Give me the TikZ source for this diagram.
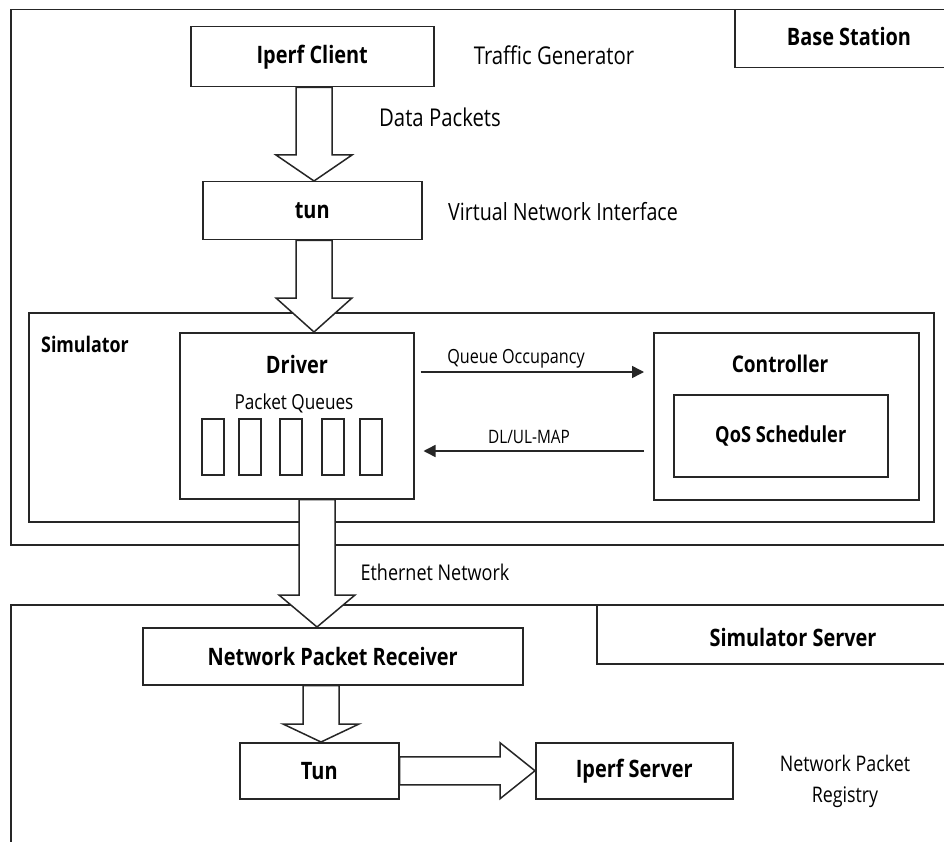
\documentclass[tikz,border=0pt]{standalone}
\usepackage{fontspec}
\setmainfont{Open Sans}[FakeStretch=0.83]
\usetikzlibrary{arrows.meta,calc}
\newcommand\lblfont{\fontsize{24.5}{30}\selectfont}
\newcommand\boldfont{\fontsize{24}{28}\selectfont\bfseries}
\newcommand\smallfont{\fontsize{19.5}{22}\selectfont}
\newcommand\blkdown[4]{% x, from, to, head length
  \draw[blockarrow] let \p1=(#2), \p2=(#3) in
    ({(#1-18)*1pt},\y1) -- ({(#1-18)*1pt},{\y2+#4pt}) -- ({(#1-38)*1pt},{\y2+#4pt})
    -- ({#1*1pt},\y2) -- ({(#1+38)*1pt},{\y2+#4pt}) -- ({(#1+18)*1pt},{\y2+#4pt})
    -- ({(#1+18)*1pt},\y1) -- cycle;}
\tikzset{
  line/.style={draw=black!85, line width=1.5pt},
  frame/.style={line, rectangle, inner sep=0pt, anchor=north west, fill=white},
  blockarrow/.style={line, fill=white, line join=miter},
  thinarrow/.style={line, -{Triangle[length=12pt,width=12pt]}},
  lbl/.style={font=\lblfont, inner sep=0pt, text=black},
  bold/.style={font=\boldfont, inner sep=0pt, text=black},
  small/.style={font=\smallfont, inner sep=0pt, text=black},
}
\begin{document}
\begin{tikzpicture}[x=1pt,y=-1pt]
\useasboundingbox (0,0) rectangle (944,842);
\fill[white] (0,0) rectangle (944,842);
\clip (0,0) rectangle (944,842);
% outer containers
\node[frame, minimum width=960, minimum height=535] (bs) at (10,9) {};
\node[frame, minimum width=240, minimum height=58] (bslbl) at (734,9) {};
\node[bold] (bstext) at (849,37) {Base Station};
\node[frame, minimum width=960, minimum height=300] (ss) at (10,604) {};
\node[frame, minimum width=380, minimum height=59] (sslbl) at (596,604) {};
\node[bold] (sstext) at (793,637) {Simulator Server};
% top chain
\node[frame, minimum width=243, minimum height=60, font=\boldfont] (client) at (190,26) {Iperf Client};
\node[lbl] (tg) at (554,55) {Traffic Generator};
\node[lbl] (dp) at (440,117) {Data Packets};
\node[frame, minimum width=219, minimum height=58, font=\boldfont] (tun) at (202,181) {tun};
\node[lbl, font=\fontsize{23.7}{28}\selectfont] (vni) at (563,212) {Virtual Network Interface};
% simulator
\node[frame, minimum width=905, minimum height=209] (sim) at (28,312) {};
\node[bold, font=\fontsize{21.5}{26}\selectfont\bfseries] (simtext) at (85,344) {Simulator};
\node[frame, minimum width=234, minimum height=166] (driver) at (179,332) {};
\node[bold] (drivertext) at (297,364) {Driver};
\node[lbl, font=\fontsize{20.7}{24}\selectfont] (pq) at (294,403) {Packet Queues};
\foreach \i/\cx in {1/213,2/250,3/291,4/333,5/371}{
  \node[frame, anchor=center, minimum width=22, minimum height=56] (q\i) at (\cx,447) {};
}
\node[frame, minimum width=265, minimum height=167] (ctrl) at (653,332) {};
\node[bold, font=\fontsize{23}{26}\selectfont\bfseries] (ctrltext) at (780,364) {Controller};
\node[frame, minimum width=214, minimum height=82, font=\fontsize{22}{26}\selectfont\bfseries] (qos) at (673,394) {QoS Scheduler};
\draw[thinarrow] ($(driver.north east)+(6,40)$) -- ($(ctrl.north west)+(-9,40)$);
\node[small] (qo) at (516,359) {Queue Occupancy};
\draw[thinarrow] ($(ctrl.north west)+(-9,119)$) -- ($(driver.north east)+(9,119)$);
\node[small, font=\fontsize{18.5}{22}\selectfont] (map) at (529,437) {DL/UL-MAP};
% server side
\node[frame, minimum width=380, minimum height=57, font=\boldfont] (npr) at (142,627) {Network Packet Receiver};
\node[frame, minimum width=159, minimum height=56, font=\boldfont] (tun2) at (239,742) {Tun};
\node[frame, minimum width=197, minimum height=56, font=\boldfont] (iserver) at (535,742) {Iperf Server};
\node[lbl, align=center, font=\fontsize{21.5}{31}\selectfont] (npreg) at (845,781) {Network Packet\\Registry};
\node[lbl, font=\fontsize{21.7}{24}\selectfont] (eth) at (435,572) {Ethernet Network};
% block arrows
\blkdown{314}{client.south}{tun.north}{26}
\blkdown{314}{tun.south}{driver.north}{34}
\blkdown{317}{driver.south}{npr.north}{32}
\blkdown{321}{npr.south}{tun2.north}{18}
\draw[blockarrow] let \p1=(tun2.east), \p2=(iserver.west) in
  (\x1,{\y2+14pt}) -- ({\x2-35pt},{\y2+14pt}) -- ({\x2-35pt},{\y2+28pt}) -- (\x2,\y2)
  -- ({\x2-35pt},{\y2-28pt}) -- ({\x2-35pt},{\y2-14pt}) -- (\x1,{\y2-14pt}) -- cycle;
\end{tikzpicture}
\end{document}
